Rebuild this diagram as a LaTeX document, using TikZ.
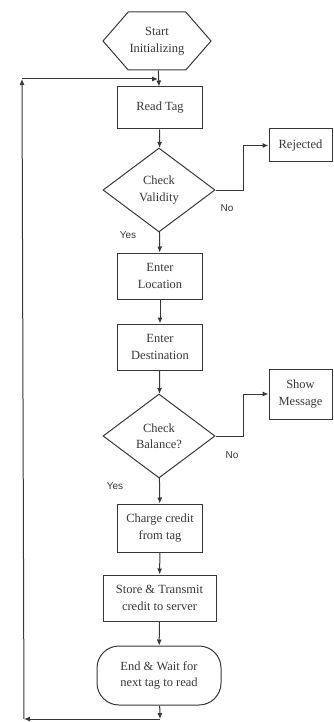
\documentclass[tikz,border=0pt]{standalone}
\usepackage{fontspec}
\setmainfont{Liberation Serif}
\newfontfamily\labelfont{Liberation Sans}
\usepackage{tikz}
\usetikzlibrary{shapes.geometric, shapes.symbols, arrows.meta}
\definecolor{inkgray}{RGB}{55,55,55}

\begin{document}
\begin{tikzpicture}[x=1pt, y=-1pt, line width=1pt,
    box/.style={draw=inkgray, rectangle, align=center, inner sep=1pt, text=inkgray,
        font=\fontsize{12.5}{16.5}\selectfont},
    decision/.style={draw=inkgray, diamond, align=center, inner sep=0pt, text=inkgray,
        minimum width=112pt, minimum height=84pt, font=\fontsize{12.5}{16.5}\selectfont},
    flow/.style={draw=inkgray, -{Latex[length=6pt, width=5pt]}},
    yesno/.style={text=inkgray, font=\labelfont\fontsize{10}{12}\selectfont}]
    \useasboundingbox (0,0) rectangle (333,722);

    % Start
    \node[draw=inkgray, signal, signal to=east and west, signal pointer angle=98,
        minimum width=108pt, minimum height=58pt, inner sep=0pt, align=center,
        text=inkgray, font=\fontsize{12.5}{16.5}\selectfont] (start) at (157,41) {Start\\Initializing};

    % Main column
    \node[box, minimum width=85pt, minimum height=42pt] (readtag) at (160,108) {Read Tag};
    \node[decision] (chkval) at (159,190) {Check\\Validity};
    \node[box, minimum width=85pt, minimum height=46pt] (loc) at (160,276) {Enter\\Location};
    \node[box, minimum width=85pt, minimum height=46pt] (dest) at (160,347) {Enter\\Destination};
    \node[decision] (chkbal) at (159,436) {Check\\Balance?};
    \node[box, minimum width=85pt, minimum height=48pt] (charge) at (160,528) {Charge credit\\from tag};
    \node[box, minimum width=113pt, minimum height=46pt] (store) at (159.5,598) {Store \& Transmit\\credit to server};
    \node[box, rounded corners=22pt, minimum width=124pt, minimum height=59pt] (endn) at (159,675.5) {End \& Wait for\\next tag to read};

    % Side boxes
    \node[box, minimum width=63pt, minimum height=33pt] (rejected) at (300.5,145.5) {Rejected};
    \node[box, minimum width=63pt, minimum height=50pt] (showmsg) at (300.5,394) {Show\\Message};

    % Yes / No labels
    \node[yesno] (yes1) at (128,235) {Yes};
    \node[yesno] (no1) at (227,208) {No};
    \node[yesno] (yes2) at (115,486) {Yes};
    \node[yesno] (no2) at (232,455) {No};

    % Main flow
    \draw[flow] (start) -- (readtag);
    \draw[flow] (readtag) -- (chkval);
    \draw[flow] (chkval) -- (loc);
    \draw[flow] (loc) -- (dest);
    \draw[flow] (dest) -- (chkbal);
    \draw[flow] (chkbal) -- (charge);
    \draw[flow] (charge) -- (store);
    \draw[flow] (store) -- (endn);

    % No branches
    \draw[flow] (chkval.east) -- (243,190) |- (rejected.west);
    \draw[flow] (chkbal.east) -- (243,436) |- (showmsg.west);

    % Loop back to Read Tag
    \coordinate (bot) at (160,719);
    \coordinate (botleft) at (24,719);
    \coordinate (topleft) at (22,79);
    \coordinate (topright) at (158,79);
    \draw[flow] (endn) -- (bot);
    \draw[flow] (bot) -- (botleft);
    \draw[flow] (botleft) -- (topleft);
    \draw[flow] (topleft) -- (topright);
\end{tikzpicture}
\end{document}
